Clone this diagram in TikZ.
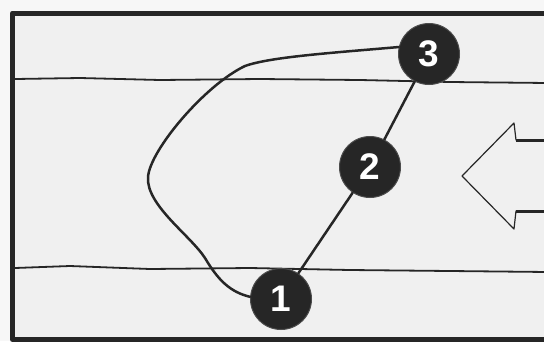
\documentclass[tikz,border=0pt]{standalone}
\usepackage{fontspec}
\setmainfont{Liberation Sans}
\begin{document}
\begin{tikzpicture}[x=1pt,y=-1pt,
  ink/.style={draw=black!85, line cap=round, line join=round},
  stepdot/.style={circle, fill=black!85, draw=black!70, line width=1pt, minimum size=61pt, inner sep=0pt,
    text=white, font=\fontsize{37}{37}\selectfont\bfseries},
  linkline/.style={ink, line width=2.5pt},
  ruleline/.style={ink, line width=1.8pt}]
\useasboundingbox (0,0) rectangle (544,341);
\clip (0,0) rectangle (544,341);
\fill[black!3] (0,0) rectangle (544,341);
\fill[black!6] (12,13) rectangle (544,339);
% frame
\draw[ink, line width=5pt, line cap=butt] (550,13) -- (12.5,13) -- (12.5,339.5) -- (550,339.5);
% horizontal lines
\draw[ruleline] (15,79) -- (80,78) -- (160,80) -- (260,79) -- (360,80) -- (450,82) -- (548,83);
\draw[ruleline] (15,268) -- (70,266) -- (150,269) -- (250,268) -- (350,270) -- (450,271) -- (548,272);
% arrow
\draw[ink, line width=1.2pt] (516,140) -- (514,123) -- (462,176) -- (514,229) -- (516,211);
\draw[ink, line width=3pt, line cap=butt] (516,140) -- (550,140);
\draw[ink, line width=3pt, line cap=butt] (516,211) -- (550,211);
% nodes
\node[stepdot] (n1) at (281,299) {1};
\node[stepdot] (n2) at (370,167) {2};
\node[stepdot] (n3) at (429,54) {3};
% connectors
\draw[linkline] (n1) -- (n2);
\draw[linkline] (n2) -- (n3);
\draw[linkline] (n3.167) .. controls (330,53) and (270,57) .. (245,66)
  .. controls (205,85) and (150,150) .. (148,177)
  .. controls (146,205) and (190,235) .. (205,258)
  .. controls (218,280) and (230,292) .. (n1.176);
\end{tikzpicture}
\end{document}
